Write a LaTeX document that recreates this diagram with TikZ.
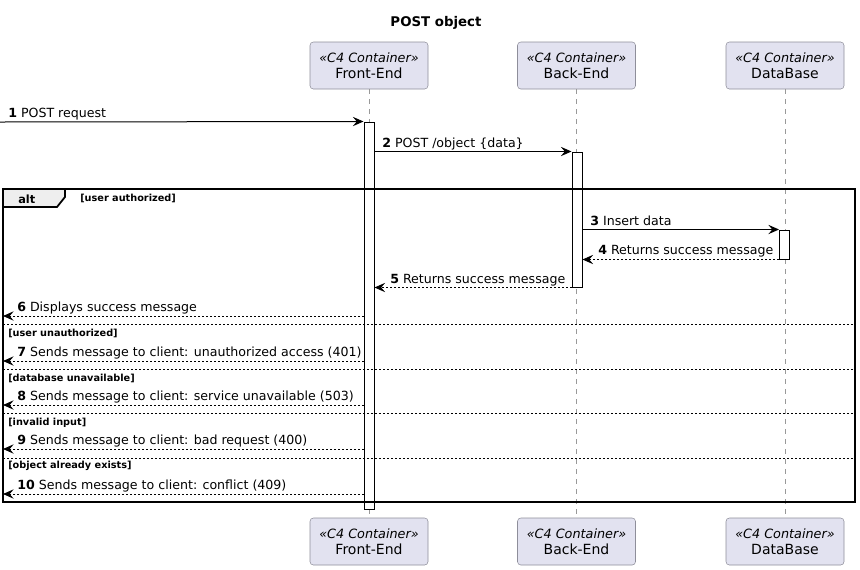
\documentclass[tikz,border=0pt]{standalone}
\usepackage{fontspec}
\setmainfont{DejaVu Sans}
\usetikzlibrary{arrows.meta}

\definecolor{partfill}{HTML}{E2E2F0}
\definecolor{partline}{HTML}{8E8E9A}
\definecolor{tabfill}{HTML}{EEEEEE}

\tikzset{
    part/.style={draw=partline, fill=partfill, rounded corners=2.5pt, align=center,
        minimum width=88.5pt, minimum height=35.25pt, inner sep=0pt},
    life/.style={draw=gray!80, line width=0.6pt, dash pattern=on 3.75pt off 3.75pt},
    actbar/.style={draw=black, fill=white, line width=0.75pt, minimum width=7.5pt, inner sep=0pt},
    msg/.style={line width=0.75pt, -{Stealth[length=8pt, width=7pt, inset=3pt]}},
    reply/.style={msg, dash pattern=on 1.5pt off 1.5pt},
    lbl/.style={anchor=base west, inner sep=0pt, font=\fontsize{9.45}{11}\selectfont},
    guard/.style={anchor=base west, inner sep=0pt, font=\bfseries\fontsize{7.3}{9}\selectfont},
    frame/.style={line width=1.3pt},
    sep/.style={line width=0.6pt, dash pattern=on 1.5pt off 1.5pt}
}

\newcommand{\stereo}[1]{{\fontsize{9.6}{14}\selectfont\itshape «C4 Container»}\\{\fontsize{10.5}{14}\selectfont #1}}

\begin{document}
\begin{tikzpicture}[x=0.75pt, y=-0.75pt]
    \useasboundingbox (0,0) rectangle (860,569);

    % Title
    \node[font=\bfseries\fontsize{10}{12}\selectfont] (title) at (436,23) {POST object};

    % Participants (top and bottom)
    \node[part] (feTop) at (369,65.5) {\stereo{Front-End}};
    \node[part] (beTop) at (576.5,65.5) {\stereo{Back-End}};
    \node[part] (dbTop) at (785,65.5) {\stereo{DataBase}};
    \node[part] (feBot) at (369,541.5) {\stereo{Front-End}};
    \node[part] (beBot) at (576.5,541.5) {\stereo{Back-End}};
    \node[part] (dbBot) at (785,541.5) {\stereo{DataBase}};

    % Lifelines
    \draw[life] (feTop) -- (feBot);
    \draw[life] (beTop) -- (beBot);
    \draw[life] (dbTop) -- (dbBot);

    % Activation bars
    \node[actbar, minimum height=290.25pt] (feBar) at (369,315.5) {};
    \node[actbar, minimum height=101.25pt] (beBar) at (577,219.5) {};
    \node[actbar, minimum height=21.75pt] (dbBar) at (784.5,244.5) {};

    % alt frame
    \draw[frame] (3,189) rectangle (855,502);
    \draw[frame, fill=tabfill] (3,189) -- (65,189) -- (65,197) -- (57,207) -- (3,207) -- cycle;
    \node[anchor=base west, inner sep=0pt, font=\bfseries\fontsize{8.5}{10}\selectfont] (altlbl) at (18,203) {alt};
    \node[guard] (g1) at (80,201) {[user authorized]};

    % Operand separators
    \draw[sep] (3,324) -- (855,324);
    \draw[sep] (3,369) -- (855,369);
    \draw[sep] (3,413) -- (855,413);
    \draw[sep] (3,458) -- (855,458);
    \node[guard] (g2) at (8,336) {[user unauthorized]};
    \node[guard] (g3) at (8,381) {[database unavailable]};
    \node[guard] (g4) at (8,425) {[invalid input]};
    \node[guard] (g5) at (8,468) {[object already exists]};

    % Messages
    \coordinate (client) at (0,122);
    \draw[msg] (client) -- (feBar.north west);
    \node[lbl] (m1) at (8,117) {\textbf{1} POST request};

    \draw[msg] (feBar.east |- beBar.north) -- (beBar.north west);
    \node[lbl] (m2) at (382,147) {\textbf{2} POST /object \{data\}};

    \draw[msg] (beBar.east |- dbBar.north) -- (dbBar.north west);
    \node[lbl] (m3) at (590,225) {\textbf{3} Insert data};

    \draw[reply] (dbBar.south west) -- (dbBar.south west -| beBar.east);
    \node[lbl] (m4) at (598,254) {\textbf{4} Returns success message};

    \draw[reply] (beBar.south west) -- (beBar.south west -| feBar.east);
    \node[lbl] (m5) at (390,283) {\textbf{5} Returns success message};

    % Replies back to the client
    \coordinate (c6) at (3,316);
    \coordinate (c7) at (3,361);
    \coordinate (c8) at (3,405);
    \coordinate (c9) at (3,449);
    \coordinate (c10) at (3,494);
    \draw[reply] (feBar.west |- c6) -- (c6);
    \node[lbl] (m6) at (17,311) {\textbf{6} Displays success message};
    \draw[reply] (feBar.west |- c7) -- (c7);
    \node[lbl] (m7) at (17,356) {\textbf{7} Sends message to client: unauthorized access (401)};
    \draw[reply] (feBar.west |- c8) -- (c8);
    \node[lbl] (m8) at (17,400) {\textbf{8} Sends message to client: service unavailable (503)};
    \draw[reply] (feBar.west |- c9) -- (c9);
    \node[lbl] (m9) at (17,444) {\textbf{9} Sends message to client: bad request (400)};
    \draw[reply] (feBar.west |- c10) -- (c10);
    \node[lbl] (m10) at (17,489) {\textbf{10} Sends message to client: conflict (409)};

\end{tikzpicture}
\end{document}
